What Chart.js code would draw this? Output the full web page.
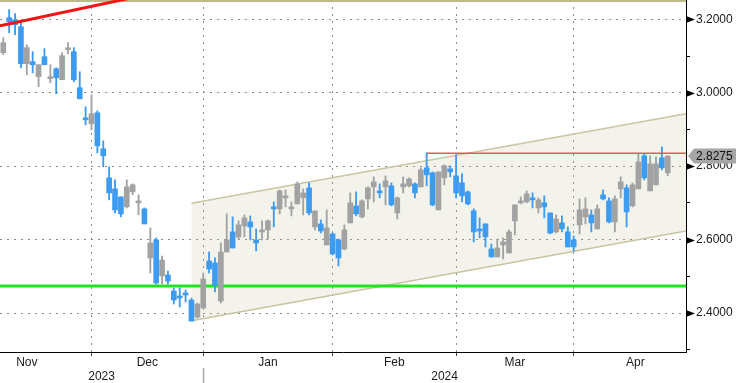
<!DOCTYPE html>
<html><head><meta charset="utf-8">
<script src="https://cdn.jsdelivr.net/npm/chart.js@4/dist/chart.umd.min.js"></script>
<style>html,body{margin:0;padding:0;background:#fff;overflow:hidden}</style>
</head><body>
<canvas id="c" width="736" height="383"></canvas>
<script>
// ---- data (daily candles, index 0 = first visible session) ----
const opens = [3.1091,3.2045,3.1991,3.1800,3.0791,3.0845,3.0436,3.0981,3.0381,3.0654,
3.0354,3.1172,3.1118,3.0136,2.9291,2.9154,2.9454,2.8472,2.7681,2.7381,
2.7163,2.6891,2.7300,2.7000,2.6836,2.5500,2.5991,2.5009,2.5036,2.4600,
2.4436,2.4545,2.4354,2.3890,2.4136,2.5418,2.5363,2.4327,2.5663,2.6209,
2.6072,2.6372,2.6481,2.5991,2.6209,2.6263,2.6863,2.6836,2.7136,2.6836,
2.6972,2.7136,2.7409,2.6345,2.6427,2.5854,2.6154,2.5991,2.5745,2.6454,
2.6918,2.6618,2.7109,2.7436,2.7300,2.7436,2.7463,2.6727,2.7436,2.7463,
2.7518,2.7436,2.7954,2.7818,2.6809,2.7681,2.7927,2.7736,2.7545,2.7300,
2.6782,2.6263,2.6427,2.5745,2.5527,2.5854,2.5636,2.6509,2.7000,2.7027,
2.7136,2.6863,2.7000,2.6727,2.6209,2.6454,2.6209,2.5991,2.6400,2.6618,
2.6672,2.6291,2.7218,2.7054,2.6481,2.7381,2.7409,2.6918,2.7381,2.8282,
2.7327,2.7491,2.8227,2.7818];
const highs = [3.1500,3.2263,3.2154,3.1909,3.1309,3.1118,3.0763,3.1200,3.0763,3.0681,
3.1091,3.1363,3.1227,3.0572,2.9618,2.9945,2.9509,2.8691,2.7981,2.7627,
2.7163,2.7627,2.7518,2.7218,2.6863,2.6318,2.6045,2.5554,2.5145,2.4681,
2.4681,2.4627,2.4409,2.4272,2.5091,2.5663,2.5500,2.5909,2.6700,2.6618,
2.6509,2.6672,2.6645,2.6291,2.6509,2.6536,2.7027,2.7354,2.7354,2.7027,
2.7572,2.7381,2.7545,2.6782,2.6536,2.6809,2.6181,2.6018,2.6400,2.7272,
2.7300,2.7082,2.7436,2.7709,2.7518,2.7736,2.7545,2.7163,2.7709,2.7681,
2.7545,2.7954,2.8363,2.7845,2.7845,2.8036,2.8009,2.8309,2.7791,2.7327,
2.6836,2.6591,2.6427,2.5882,2.6018,2.6045,2.6263,2.6945,2.7163,2.7327,
2.7272,2.7136,2.7191,2.6727,2.6672,2.6645,2.6345,2.6100,2.7109,2.7136,
2.6809,2.6945,2.7354,2.7136,2.7191,2.7709,2.7491,2.7545,2.8336,2.8336,
2.8282,2.8254,2.8527,2.8282];
const lows = [3.1036,3.1636,3.1581,3.0681,3.0491,3.0545,3.0163,3.0763,3.0272,2.9972,
3.0354,3.1063,3.0300,2.9836,2.9127,2.8991,2.8363,2.7981,2.7082,2.6727,
2.6618,2.6863,2.7218,2.6672,2.6427,2.5091,2.4791,2.4791,2.4791,2.4245,
2.4163,2.4300,2.3782,2.3863,2.4136,2.5091,2.4572,2.4272,2.5663,2.5772,
2.6018,2.6072,2.5991,2.5691,2.5991,2.6018,2.6345,2.6700,2.6891,2.6645,
2.6972,2.6672,2.6672,2.6263,2.6181,2.5854,2.5582,2.5282,2.5718,2.6454,
2.6645,2.6591,2.6836,2.7027,2.7136,2.6945,2.6918,2.6563,2.7272,2.7436,
2.7136,2.7436,2.7463,2.6918,2.6809,2.7491,2.7709,2.7136,2.7027,2.6945,
2.5936,2.6045,2.5800,2.5527,2.5527,2.5473,2.5636,2.6127,2.6972,2.7000,
2.6863,2.6727,2.6591,2.6154,2.6181,2.6209,2.5800,2.5691,2.6154,2.6427,
2.6209,2.6291,2.7082,2.6454,2.6209,2.7136,2.6345,2.6891,2.7381,2.7627,
2.7327,2.7491,2.7900,2.7736];
const closes = [3.1363,3.1936,3.1854,3.0791,3.1227,3.0763,3.0763,3.0763,3.0436,3.0409,
3.1009,3.1200,3.0354,2.9836,2.9263,2.9427,2.8554,2.8282,2.7272,2.6809,
2.6700,2.7436,2.7491,2.7054,2.6427,2.5909,2.4818,2.5445,2.4872,2.4354,
2.4409,2.4491,2.3782,2.4245,2.4927,2.5200,2.4763,2.5663,2.5991,2.5772,
2.6400,2.6591,2.6345,2.5909,2.6236,2.6509,2.6836,2.7327,2.7191,2.6863,
2.7518,2.7272,2.6727,2.6782,2.6236,2.6318,2.5609,2.5500,2.6263,2.7000,
2.6700,2.7054,2.7409,2.7572,2.7272,2.7600,2.6945,2.7136,2.7518,2.7654,
2.7272,2.7900,2.7763,2.6945,2.7845,2.8009,2.7845,2.7272,2.7191,2.6972,
2.6209,2.6236,2.6072,2.5527,2.5772,2.5936,2.6209,2.6945,2.7027,2.7245,
2.7082,2.7082,2.6891,2.6181,2.6563,2.6291,2.5800,2.5800,2.6809,2.6836,
2.6454,2.6836,2.7109,2.6481,2.7109,2.7572,2.6754,2.7491,2.8118,2.7681,
2.8063,2.8063,2.7954,2.8275];

const monthNames = ['Nov','Dec','Jan','Feb','Mar','Apr'];
const monthStarts = [-7, 15, 34, 56, 77, 97, 118];   // session index of first trading day
const yearNames = ['2023','2024'];
const yearBreak = 34;
const lastPrice = 2.8275;
const supportLevel = 2.4735;
const resistLevel = 2.835;
const resistStart = 72;
const channelUpper = [[32, 2.6992], [116.1, 2.9427]];
const channelLower = [[32, 2.3790], [116.1, 2.6237]];
const trendLine = [[-0.56, 3.1827], [25, 3.2692]];
const topLevel = 3.2508;

// ---- view ----
const X_MIN = -0.56, X_MAX = 116.1, Y_MIN = 2.2938, Y_MAX = 3.2526;
const BLUE = '#3d9bf2', GRAY = '#a2a2a2';
const FONT = {family: 'Liberation Sans', size: 12};
const isMajor = v => Math.round(v * 10) % 2 === 0;

const idx = opens.map((_, i) => i);
const candleColors = idx.map(i => closes[i] < opens[i] ? BLUE : GRAY);
const pts = a => a.map(p => ({x: p[0], y: p[1]}));
const monthCenters = monthNames.map((_, i) => (monthStarts[i] + monthStarts[i + 1]) / 2);
const yearCenters = [(X_MIN + yearBreak) / 2, (yearBreak + X_MAX) / 2];

const extras = {
  id: 'extras',
  afterDraw(chart) {
    const {ctx, chartArea, scales} = chart;
    const y = scales.y, x = scales.x;
    ctx.save();
    ctx.fillStyle = '#000';
    y.ticks.forEach(t => {
      if (!isMajor(t.value)) return;
      const py = Math.round(y.getPixelForValue(t.value)) + 0.5;
      ctx.beginPath();
      ctx.moveTo(chartArea.right, py - 3.5);
      ctx.lineTo(chartArea.right + 9, py);
      ctx.lineTo(chartArea.right, py + 3.5);
      ctx.closePath();
      ctx.fill();
    });
    const sx = Math.round(x.getPixelForValue(yearBreak)) + 0.5;
    ctx.strokeStyle = '#a8a8a8';
    ctx.lineWidth = 1.5;
    ctx.beginPath();
    ctx.moveTo(sx, scales.xy.top - 1);
    ctx.lineTo(sx, scales.xy.bottom);
    ctx.stroke();
    const py = y.getPixelForValue(lastPrice);
    const r = chartArea.right;
    ctx.fillStyle = '#a6a6a6';
    ctx.beginPath();
    ctx.moveTo(r + 2, py);
    ctx.lineTo(r + 8, py - 7.5);
    ctx.lineTo(736, py - 7.5);
    ctx.lineTo(736, py + 7.5);
    ctx.lineTo(r + 8, py + 7.5);
    ctx.closePath();
    ctx.fill();
    ctx.fillStyle = '#111';
    ctx.font = '12px "Liberation Sans"';
    ctx.textBaseline = 'middle';
    ctx.textAlign = 'left';
    ctx.fillText(lastPrice.toFixed(4), r + 10, py + 0.5);
    ctx.restore();
  }
};

const xBase = {type: 'linear', min: X_MIN, max: X_MAX, offset: false};

new Chart(document.getElementById('c'), {
  type: 'bar',
  data: {
    datasets: [
      {type: 'line', data: pts(channelUpper), borderColor: '#c9c6a0', borderWidth: 1.5,
       backgroundColor: 'rgba(190,190,150,0.18)', fill: '+1', pointRadius: 0, order: 10, clip: 0},
      {type: 'line', data: pts(channelLower), borderColor: '#c9c6a0', borderWidth: 1.5,
       fill: false, pointRadius: 0, order: 10, clip: 0},
      {type: 'line', data: [{x: X_MIN, y: supportLevel}, {x: X_MAX, y: supportLevel}],
       borderColor: '#1ee61e', borderWidth: 3, pointRadius: 0, fill: false, order: 9, clip: 0},
      {type: 'line', data: [{x: X_MIN, y: topLevel}, {x: X_MAX, y: topLevel}],
       borderColor: '#bdbb8c', borderWidth: 2.5, pointRadius: 0, fill: false, order: 9, clip: 0},
      {type: 'bar', data: idx.map(i => ({x: i, y: [lows[i], highs[i]]})),
       backgroundColor: candleColors, barThickness: 1.2, grouped: false, borderWidth: 0, order: 5},
      {type: 'bar', data: idx.map(i => ({x: i, y: [opens[i], closes[i]]})),
       backgroundColor: candleColors, barThickness: 5, grouped: false, borderWidth: 0,
       minBarLength: 2, order: 4},
      {type: 'line', data: [{x: resistStart, y: resistLevel}, {x: X_MAX, y: resistLevel}],
       borderColor: '#e8585a', borderWidth: 1.5, pointRadius: 0, fill: false, order: 1, clip: 0},
      {type: 'line', data: pts(trendLine),
       borderColor: '#ee1515', borderWidth: 3, pointRadius: 0, fill: false, order: 1, clip: 0}
    ]
  },
  options: {
    responsive: false,
    animation: false,
    devicePixelRatio: 1,
    layout: {padding: 0},
    plugins: {legend: {display: false}, tooltip: {enabled: false}},
    scales: {
      x: Object.assign({}, xBase, {
        position: 'bottom', weight: 0,
        afterBuildTicks: s => { s.ticks = monthStarts.filter(v => v > X_MIN && v < X_MAX).map(v => ({value: v})); },
        afterFit: s => { s.height = 3; s.paddingLeft = 0; s.paddingRight = 0; },
        ticks: {display: false},
        grid: {display: true, offset: false, color: '#8a8a8a', lineWidth: 1, drawTicks: true,
               tickLength: 4, tickColor: '#444'},
        border: {display: true, color: '#000', width: 1, dash: [2, 5]}
      }),
      xm: Object.assign({}, xBase, {
        position: 'bottom', weight: 1,
        afterBuildTicks: s => { s.ticks = monthCenters.map(v => ({value: v})); },
        afterFit: s => { s.height = 14; s.paddingLeft = 0; s.paddingRight = 0; },
        ticks: {autoSkip: false, maxRotation: 0, padding: 0, color: '#1a1a1a', font: FONT,
                callback: (v, i) => monthNames[i]},
        grid: {display: false, drawTicks: false},
        border: {display: false}
      }),
      xy: Object.assign({}, xBase, {
        position: 'bottom', weight: 2,
        afterBuildTicks: s => { s.ticks = yearCenters.map(v => ({value: v})); },
        afterFit: s => { s.height = 14; s.paddingLeft = 0; s.paddingRight = 0; },
        ticks: {autoSkip: false, maxRotation: 0, padding: 0, color: '#1a1a1a', font: FONT,
                callback: (v, i) => yearNames[i]},
        grid: {display: false, drawTicks: false},
        border: {display: false}
      }),
      y: {
        type: 'linear', position: 'right', min: Y_MIN, max: Y_MAX,
        afterFit: s => { s.width = 50; s.paddingTop = 0; s.paddingBottom = 0; },
        ticks: {stepSize: 0.1, includeBounds: false, autoSkip: false, padding: 6,
                color: '#1a1a1a', font: FONT,
                callback: v => isMajor(v) ? Number(v).toFixed(4) : ''},
        grid: {color: c => (c.tick && isMajor(c.tick.value)) ? '#8a8a8a' : 'rgba(0,0,0,0)',
               tickColor: c => (c.tick && isMajor(c.tick.value)) ? 'rgba(0,0,0,0)' : '#000',
               lineWidth: 1, drawTicks: true, tickLength: 4},
        border: {display: true, color: '#000', width: 1, dash: [2, 5]}
      }
    }
  },
  plugins: [extras]
});
</script>
</body></html>
